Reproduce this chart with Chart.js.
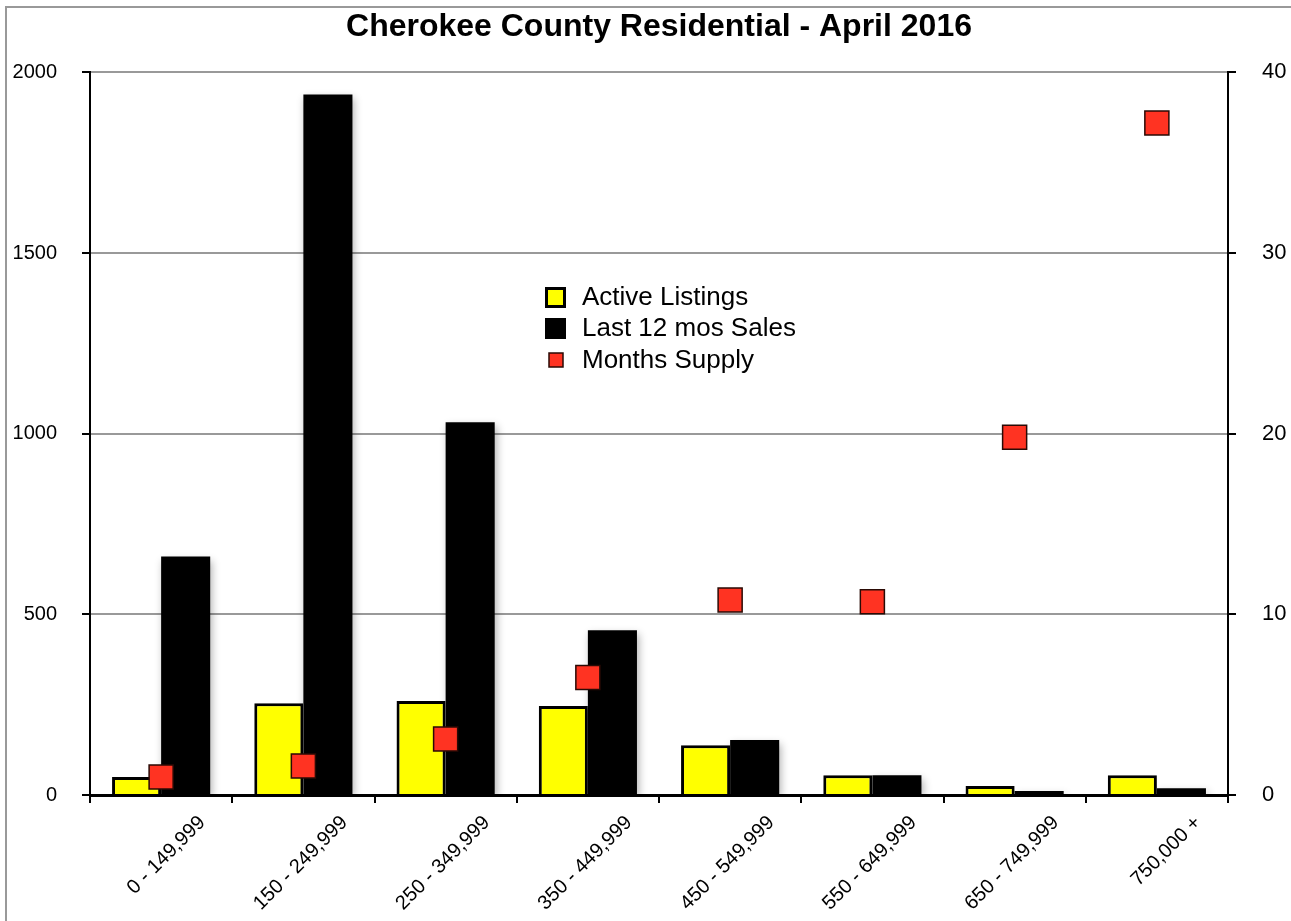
<!DOCTYPE html>
<html>
<head>
<meta charset="utf-8">
<script src="https://cdn.jsdelivr.net/npm/chart.js@4.4.1/dist/chart.umd.min.js"></script>
<style>
  body { margin: 0; background: #fff; }
  #wrap { position: relative; width: 1291px; height: 921px; }
  #frame { position: absolute; left: 5px; top: 6px; right: -10px; bottom: -10px;
           border-top: 2px solid #999; border-left: 2px solid #999; pointer-events: none; }
</style>
</head>
<body>
<div id="wrap">
  <canvas id="chart"></canvas>
  <div id="frame"></div>
</div>
<script>
const categories = ["0 - 149,999", "150 - 249,999", "250 - 349,999", "350 - 449,999",
                    "450 - 549,999", "550 - 649,999", "650 - 749,999", "750,000 +"];
const activeListings = [50, 254, 260, 246, 138, 55, 25, 55];
const lastYearSales = [660, 1939, 1032, 456, 152, 55, 11, 19];
const monthsSupply = [1.0, 1.6, 3.1, 6.5, 10.8, 10.7, 19.8, 37.2];

const FONT = "'Liberation Sans', Arial, Helvetica, sans-serif";

// soft drop shadow under the bars
const barShadow = {
    id: "barShadow",
    beforeDatasetDraw(chart, args) {
        if (chart.data.datasets[args.index].type !== "bar") return;
        const ctx = chart.ctx;
        ctx.save();
        ctx.shadowColor = "rgba(0,0,0,0.3)";
        ctx.shadowBlur = 8;
        ctx.shadowOffsetX = 2;
        ctx.shadowOffsetY = 4;
    },
    afterDatasetDraw(chart, args) {
        if (chart.data.datasets[args.index].type !== "bar") return;
        chart.ctx.restore();
    }
};

// legend floating inside the plot
const floatLegend = {
    id: "floatLegend",
    afterDraw(chart) {
        const ctx = chart.ctx;
        const ds = chart.data.datasets;
        const x = 545, rows = [297, 328, 360];
        ctx.save();
        ctx.font = "26px " + FONT;
        ctx.textBaseline = "middle";
        // Active Listings
        ctx.fillStyle = ds[0].backgroundColor;
        ctx.fillRect(x, rows[0] - 10, 21, 21);
        ctx.lineWidth = 3;
        ctx.strokeStyle = ds[0].borderColor;
        ctx.strokeRect(x + 1.5, rows[0] - 8.5, 18, 18);
        // Last 12 mos Sales
        ctx.fillStyle = ds[1].backgroundColor;
        ctx.fillRect(x, rows[1] - 10, 21, 21);
        // Months Supply
        ctx.fillStyle = ds[2].backgroundColor;
        ctx.fillRect(x + 4, rows[2] - 7, 14, 14);
        ctx.lineWidth = 1.5;
        ctx.strokeStyle = ds[2].borderColor;
        ctx.strokeRect(x + 4, rows[2] - 7, 14, 14);

        ctx.fillStyle = "#000";
        ds.forEach((d, i) => ctx.fillText(d.label, 582, rows[i] + 1));
        ctx.restore();
    }
};

new Chart(document.getElementById("chart"), {
    data: {
        labels: categories,
        datasets: [{
            type: "bar",
            label: "Active Listings",
            data: activeListings,
            backgroundColor: "#ffff00",
            borderColor: "#000",
            borderWidth: 3,
            yAxisID: "y",
            order: 1
        }, {
            type: "bar",
            label: "Last 12 mos Sales",
            data: lastYearSales,
            backgroundColor: "#000",
            borderColor: "#000",
            borderWidth: 0,
            yAxisID: "y",
            order: 1
        }, {
            type: "line",
            label: "Months Supply",
            data: monthsSupply,
            showLine: false,
            pointStyle: "rect",
            pointRadius: 17,
            pointHoverRadius: 17,
            pointBorderWidth: 1.5,
            backgroundColor: "#ff3322",
            borderColor: "#2a0a05",
            yAxisID: "y1",
            order: 0
        }]
    },
    options: {
        responsive: true,
        maintainAspectRatio: false,
        animation: false,
        datasets: { bar: { categoryPercentage: 0.69, barPercentage: 1.0 } },
        layout: { padding: { left: 0, right: 0, top: 8, bottom: 0 } },
        plugins: {
            legend: { display: false },
            tooltip: { enabled: false },
            title: {
                display: true,
                fullSize: false,
                text: "Cherokee County Residential - April 2016",
                color: "#000",
                font: { family: FONT, size: 32, weight: "bold" },
                padding: { top: 0, bottom: 26 }
            }
        },
        scales: {
            x: {
                offset: true,
                grid: { drawOnChartArea: false, offset: true, tickLength: 8, color: "#000", lineWidth: 2 },
                border: { color: "#000", width: 3 },
                ticks: {
                    color: "#000",
                    font: { family: FONT, size: 20 },
                    maxRotation: 45, minRotation: 45,
                    autoSkip: false,
                    labelOffset: 41,
                    padding: 8
                },
                afterFit(scale) { scale.height = 126; }
            },
            y: {
                position: "left",
                min: 0, max: 2000,
                ticks: {
                    stepSize: 500, color: "#000", font: { family: FONT, size: 20 }, padding: 25,
                    callback: v => String(v)
                },
                grid: { color: "#999", lineWidth: 2, tickColor: "#000", tickLength: 8 },
                border: { color: "#000", width: 2 },
                afterFit(scale) { scale.width = 90; }
            },
            y1: {
                position: "right",
                min: 0, max: 40,
                ticks: {
                    stepSize: 10, color: "#000", font: { family: FONT, size: 22 }, padding: 26,
                    callback: v => String(v)
                },
                grid: { drawOnChartArea: false, color: "#000", lineWidth: 2, tickLength: 8 },
                border: { color: "#000", width: 2 },
                afterFit(scale) { scale.width = 63; }
            }
        }
    },
    plugins: [barShadow, floatLegend]
});
</script>
</body>
</html>
